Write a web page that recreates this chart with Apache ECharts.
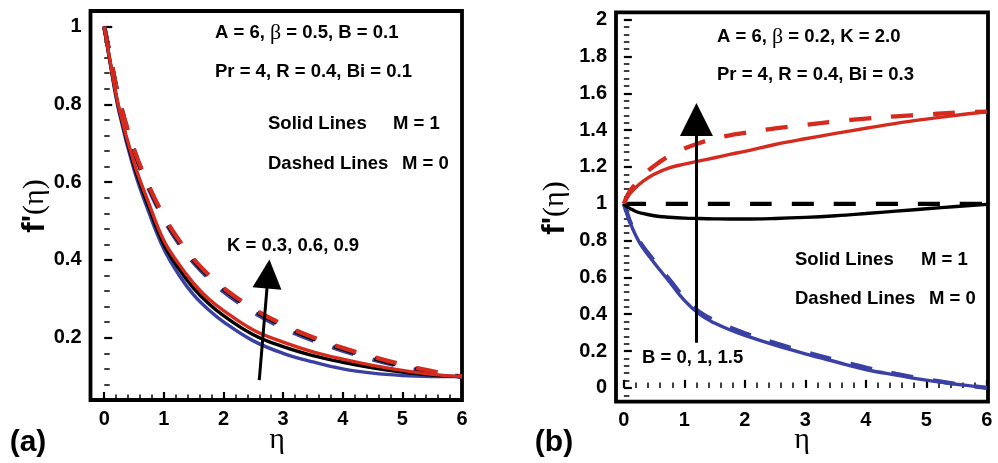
<!DOCTYPE html>
<html><head><meta charset="utf-8">
<script src="https://cdn.jsdelivr.net/npm/echarts@6/dist/echarts.min.js"></script>
<style>html,body{margin:0;padding:0;background:#fff}#c{width:998px;height:463px}</style>
</head><body><div id="c"></div>
<script>
// ---------- Panel (a): K = 0.3, 0.6, 0.9 ----------
const etaA = [0,0.1,0.25,0.5,0.75,1,1.25,1.5,1.75,2,2.5,3,3.5,4,4.5,5,5.5,6];
const aSolidK03 = [1,0.905,0.78,0.632,0.522,0.428,0.362,0.31,0.272,0.241,0.192,0.16,0.138,0.12,0.109,0.103,0.1005,0.10];
const aSolidK06 = [1,0.908,0.786,0.642,0.535,0.44,0.378,0.327,0.288,0.257,0.208,0.177,0.154,0.137,0.123,0.112,0.104,0.10];
const aSolidK09 = [1,0.91,0.79,0.65,0.545,0.45,0.39,0.34,0.30,0.27,0.22,0.189,0.164,0.145,0.129,0.116,0.106,0.10];
const aDashK03  = [1,0.922,0.81,0.678,0.582,0.505,0.443,0.393,0.353,0.319,0.266,0.225,0.193,0.167,0.144,0.125,0.11,0.10];
const aDashK06  = [1,0.924,0.813,0.682,0.587,0.51,0.449,0.399,0.359,0.325,0.272,0.231,0.198,0.171,0.148,0.128,0.112,0.10];
const aDashK09  = [1,0.925,0.815,0.685,0.59,0.513,0.452,0.402,0.362,0.328,0.275,0.234,0.201,0.174,0.151,0.131,0.114,0.10];
const aArrow = [[2.60,0.091],[2.75,0.364]];
const aXTicks = [0,1,2,3,4,5,6];
const aYTicks = [0.2,0.4,0.6,0.8,1];

// ---------- Panel (b): B = 0, 1, 1.5 ----------
const etaB = [0,0.05,0.1,0.2,0.3,0.5,0.75,1,1.25,1.5,1.75,2,2.5,3,3.5,4,4.5,5,5.5,6];
const bSolidB0  = [1,0.95,0.9,0.825,0.768,0.68,0.578,0.475,0.4,0.352,0.316,0.285,0.232,0.185,0.142,0.1,0.07,0.042,0.02,0.0];
const bSolidB1  = [1,0.985,0.975,0.958,0.948,0.935,0.927,0.922,0.92,0.918,0.917,0.917,0.92,0.926,0.935,0.947,0.96,0.973,0.985,0.997];
const bSolidB15 = [1,1.03,1.055,1.09,1.118,1.16,1.195,1.215,1.233,1.25,1.268,1.285,1.322,1.353,1.382,1.41,1.437,1.46,1.481,1.50];
const bDashB0   = [1,0.952,0.905,0.832,0.775,0.69,0.59,0.488,0.412,0.365,0.328,0.297,0.243,0.195,0.151,0.11,0.076,0.046,0.022,0.0];
const bDashB1   = [1,1,1,1,1,1,1,1,1,1,1,1,1,1,1,1,1,1,1,1];
const bDashB15  = [1,1.04,1.07,1.11,1.15,1.205,1.26,1.30,1.33,1.355,1.372,1.385,1.41,1.428,1.447,1.463,1.475,1.485,1.495,1.50];
const bArrow = [[1.2,0.245],[1.2,1.458]];
const bXTicks = [0,1,2,3,4,5,6];
const bYTicks = [0,0.2,0.4,0.6,0.8,1,1.2,1.4,1.6,1.8,2];

const RED = '#d52b1e', BLUE = '#3a40a4', BLACK = '#000';
const FONT = 'Liberation Sans, Arial, sans-serif';
const SERIF = 'Liberation Serif, Times New Roman, serif';

function pairs(xs, ys){ return xs.map((x,i)=>[x,ys[i]]); }
function steps(a, b, st, skip){ const r=[]; const n=Math.round((b-a)/st); for(let i=0;i<=n;i++){ const v=+(a+i*st).toFixed(3); if(!skip(v)) r.push(v);} return r; }
const isMul = (v, m) => Math.abs(v/m - Math.round(v/m)) < 1e-6;

function majAxis(grid, min, max, vals, pos){
  return {type:'value', gridIndex:grid, min, max, position:pos,
    axisLine:{show:false}, splitLine:{show:false},
    axisTick:{show:true, inside:true, length:8, customValues:vals, lineStyle:{color:'#000', width:2.2}},
    axisLabel:{show:true, customValues:vals, margin:9, color:'#000', fontFamily:FONT, fontWeight:'bold', fontSize:20}};
}
function minAxis(grid, min, max, vals, pos){
  return {type:'value', gridIndex:grid, min, max, position:pos,
    axisLine:{show:false}, splitLine:{show:false},
    axisTick:{show:true, inside:true, length:5.5, customValues:vals, lineStyle:{color:'#000', width:1.5}},
    axisLabel:{show:false}};
}

const aXMin = -0.23, aXMax = 6, aYMin = 0.04, aYMax = 1.04;
const bXMin = -0.13, bXMax = 6.02, bYMin = -0.075, bYMax = 2.04;

function line(name, xs, ys, color, dashed, xi, yi){
  return {name, type:'line', xAxisIndex:xi, yAxisIndex:yi, data:pairs(xs,ys), showSymbol:false,
    smooth:0.4, silent:true, animation:false,
    lineStyle:{color, width: dashed?4.3:3.4, type: dashed?[22,20]:'solid', cap:'butt'}};
}
function arrow(coords, xi, yi, size){
  return {type:'lines', coordinateSystem:'cartesian2d', xAxisIndex:xi, yAxisIndex:yi, animation:false, silent:true,
    symbol:['none','triangle'], symbolSize:size, z:10,
    lineStyle:{color:'#000', width:3, opacity:1, curveness:0},
    itemStyle:{color:'#000'},
    data:[{coords:coords}]};
}

function txt(x, y, text, extra){
  return Object.assign({type:'text', x, y, silent:true, z:100,
    style:{text, fill:'#000', font:'bold 18.5px '+FONT, align:'left', verticalAlign:'middle',
      rich:{g:{fontFamily:SERIF, fontWeight:'normal', fontSize:22, fill:'#000'}}}}, extra||{});
}

const chart = echarts.init(document.getElementById('c'), null, {renderer:'canvas'});
chart.setOption({
  animation:false,
  backgroundColor:'#fff',
  grid:[
    {left:90.5, right:998-462, top:11, bottom:463-400, show:true, borderColor:'#000', borderWidth:3.8, backgroundColor:'transparent'},
    {left:616, right:998-988, top:12.3, bottom:463-401.7, show:true, borderColor:'#000', borderWidth:3.8, backgroundColor:'transparent'}
  ],
  xAxis:[
    majAxis(0,aXMin,aXMax,aXTicks,'bottom'),
    minAxis(0,aXMin,aXMax,steps(0,6,0.2,v=>isMul(v,1)),'bottom'),
    majAxis(1,bXMin,bXMax,bXTicks,'bottom'),
    minAxis(1,bXMin,bXMax,steps(0,6,0.2,v=>isMul(v,1)),'bottom')
  ],
  yAxis:[
    majAxis(0,aYMin,aYMax,aYTicks,'left'),
    minAxis(0,aYMin,aYMax,steps(0.08,1.0,0.04,v=>isMul(v,0.2)),'left'),
    majAxis(1,bYMin,bYMax,bYTicks,'left'),
    minAxis(1,bYMin,bYMax,steps(-0.04,2.0,0.04,v=>isMul(v,0.2)),'left')
  ],
  series:[
    line('a dashed K=0.3', etaA, aDashK03, BLUE, true, 0, 0),
    line('a dashed K=0.6', etaA, aDashK06, BLACK, true, 0, 0),
    line('a dashed K=0.9', etaA, aDashK09, RED, true, 0, 0),
    line('a solid K=0.3', etaA, aSolidK03, BLUE, false, 0, 0),
    line('a solid K=0.6', etaA, aSolidK06, BLACK, false, 0, 0),
    line('a solid K=0.9', etaA, aSolidK09, RED, false, 0, 0),
    arrow(aArrow, 0, 0, [15, 29]),
    line('b dashed B=1', etaB, bDashB1, BLACK, true, 2, 2),
    line('b dashed B=0', etaB, bDashB0, BLUE, true, 2, 2),
    line('b dashed B=1.5', etaB, bDashB15, RED, true, 2, 2),
    line('b solid B=0', etaB, bSolidB0, BLUE, false, 2, 2),
    line('b solid B=1', etaB, bSolidB1, BLACK, false, 2, 2),
    line('b solid B=1.5', etaB, bSolidB15, RED, false, 2, 2),
    arrow(bArrow, 2, 2, [14, 33])
  ],
  graphic:[
    // panel (a)
    txt(215, 33, 'A = 6, {g|β} = 0.5, B = 0.1'),
    txt(215, 72, 'Pr = 4, R = 0.4, Bi = 0.1'),
    txt(268, 124, 'Solid Lines'), txt(393, 124, 'M = 1'),
    txt(268, 164, 'Dashed Lines'), txt(402, 164, 'M = 0'),
    txt(227, 246, 'K = 0.3, 0.6, 0.9'),
    {type:'text', x:35, y:206, rotation:Math.PI/2, silent:true,
      style:{text:"{b|f'}{s|(η)}", align:'center', verticalAlign:'middle',
        rich:{b:{fontFamily:FONT, fontWeight:'bold', fontSize:31, fill:'#000'}, s:{fontFamily:SERIF, fontSize:30, fill:'#000'}}}},
    {type:'text', x:277, y:440, silent:true, style:{text:'η', font:'30px '+SERIF, fill:'#000', align:'center', verticalAlign:'middle'}},
    {type:'text', x:28, y:443, silent:true, style:{text:'(a)', font:'bold 30px '+FONT, fill:'#000', align:'center', verticalAlign:'middle'}},
    // panel (b)
    txt(717, 37, 'A = 6, {g|β} = 0.2, K = 2.0'),
    txt(717, 75, 'Pr = 4, R = 0.4, Bi = 0.3'),
    txt(795, 260, 'Solid Lines'), txt(921, 260, 'M = 1'),
    txt(795, 299, 'Dashed Lines'), txt(929, 299, 'M = 0'),
    txt(642, 358, 'B = 0, 1, 1.5'),
    {type:'text', x:555, y:208, rotation:Math.PI/2, silent:true,
      style:{text:"{b|f'}{s|(η)}", align:'center', verticalAlign:'middle',
        rich:{b:{fontFamily:FONT, fontWeight:'bold', fontSize:31, fill:'#000'}, s:{fontFamily:SERIF, fontSize:30, fill:'#000'}}}},
    {type:'text', x:802, y:440, silent:true, style:{text:'η', font:'30px '+SERIF, fill:'#000', align:'center', verticalAlign:'middle'}},
    {type:'text', x:554, y:443, silent:true, style:{text:'(b)', font:'bold 30px '+FONT, fill:'#000', align:'center', verticalAlign:'middle'}}
  ]
});
</script></body></html>
